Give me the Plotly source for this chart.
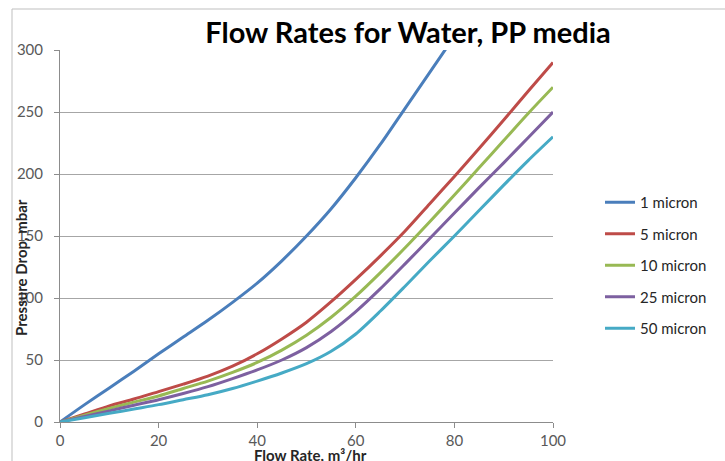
import plotly.graph_objects as go

flow = [0, 5, 10, 15, 20, 25, 30, 35, 40, 45, 50, 55, 60, 65, 70, 75, 80, 85, 90, 95, 100]
series_names = ["1 micron", "5 micron", "10 micron", "25 micron", "50 micron"]
p_1 = [0, 14, 27.5, 41, 55, 68.5, 82, 96.5, 112, 130, 150, 172, 197, 224, 253, 282, 311, 340, 370, 400, 430]
p_5 = [0, 6.5, 13, 18.5, 24.5, 30.5, 37, 45, 55, 67, 80.5, 97, 115, 134, 154, 176, 198, 220.5, 243.5, 267, 290]
p_10 = [0, 5.5, 11, 16, 21, 27, 33, 40, 48, 58, 70, 84.5, 101.5, 120.5, 140.5, 161.5, 183, 205, 227, 249, 270]
p_25 = [0, 4.5, 9, 13.5, 18, 23, 28.5, 35, 42, 50, 60, 73, 89, 107.5, 127.5, 148, 168.5, 189, 209, 229.5, 250]
p_50 = [0, 3.5, 7, 10.5, 14, 18, 22, 27, 33, 39.5, 47, 57, 71, 89.5, 109.5, 130, 150, 170.5, 191, 211, 230]
x_ticks = [0, 20, 40, 60, 80, 100]
y_ticks = [0, 50, 100, 150, 200, 250, 300]

colors = ["#4a7ebb", "#be4b48", "#98b954", "#7d60a0", "#46aac5"]
values = [p_1, p_5, p_10, p_25, p_50]

fig = go.Figure()
for i, (name, ys) in enumerate(zip(series_names, values)):
    fig.add_trace(go.Scatter(
        x=flow, y=ys, name=name, mode="lines",
        line=dict(color=colors[i], width=3, shape="spline", smoothing=0.8),
        legendgroup=f"g{i}",
    ))

font_family = "Lato, 'Open Sans', sans-serif"
L, R, T, B = 60, 553, 50, 422
PW, PH = R - L, B - T
fig.update_layout(
    width=725, height=461,
    margin=dict(l=L, r=725 - R, t=T, b=461 - B),
    paper_bgcolor="white", plot_bgcolor="white",
    title=dict(text="<b>Flow Rates for Water, PP media</b>", x=408 / 725, xanchor="center",
               y=1 - 33 / 461, yanchor="middle", xref="container", yref="container",
               font=dict(family=font_family, size=29, color="black")),
    font=dict(family=font_family, size=15, color="#595959"),
    showlegend=True,
    legend=dict(x=(600 - L) / PW, y=(B - 186) / PH, xanchor="left", yanchor="top",
                traceorder="grouped", tracegroupgap=9,
                font=dict(family=font_family, size=15, color="#262626"),
                bgcolor="rgba(0,0,0,0)"),
)
fig.update_xaxes(range=[0, 100], tickvals=x_ticks, showgrid=False,
                 showline=True, linecolor="#8c8c8c", linewidth=1,
                 ticks="outside", ticklen=5, tickcolor="#8c8c8c",
                 zeroline=False, tickfont=dict(size=15, color="#595959"))
fig.update_yaxes(range=[0, 300], tickvals=y_ticks, showgrid=True,
                 gridcolor="#a6a6a6", gridwidth=1,
                 showline=True, linecolor="#8c8c8c", linewidth=1,
                 ticks="outside", ticklen=5, tickcolor="#8c8c8c",
                 ticklabelstandoff=8,
                 zeroline=False, tickfont=dict(size=15, color="#595959"))

fig.add_annotation(text="<b>Pressure Drop, mbar</b>", textangle=-90,
                   xref="paper", yref="paper",
                   x=(21 - L) / PW, y=(B - 268) / PH,
                   showarrow=False, xanchor="center", yanchor="middle",
                   font=dict(family=font_family, size=15, color="#262626"))
fig.add_annotation(text="<b>Flow Rate, m³/hr</b>",
                   xref="paper", yref="paper",
                   x=(310 - L) / PW, y=(B - 455) / PH,
                   showarrow=False, xanchor="center", yanchor="middle",
                   font=dict(family=font_family, size=15, color="#262626"))

# chart-area border
fig.add_shape(type="rect", xref="paper", yref="paper",
              x0=(12 - L) / PW, x1=(740 - L) / PW,
              y0=(B - 470) / PH, y1=(B - 9) / PH,
              line=dict(color="#bfbfbf", width=1), fillcolor="rgba(0,0,0,0)")

fig.write_html("out.html", config={"displayModeBar": False},
               post_script="document.body.style.margin='0';")
